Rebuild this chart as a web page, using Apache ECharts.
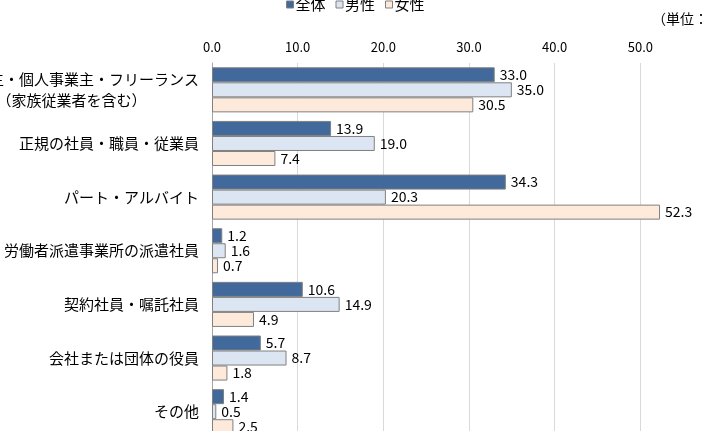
<!DOCTYPE html>
<html>
<head>
<meta charset="utf-8">
<script src="https://cdn.jsdelivr.net/npm/echarts@6/dist/echarts.min.js"></script>
<style>
html,body{margin:0;padding:0;background:#fff;}
#chart{width:706px;height:431px;}
</style>
</head>
<body>
<div id="chart"></div>
<script>
const categories = [
  "自営業主・個人事業主・フリーランス\n（家族従業者を含む）",
  "正規の社員・職員・従業員",
  "パート・アルバイト",
  "労働者派遣事業所の派遣社員",
  "契約社員・嘱託社員",
  "会社または団体の役員",
  "その他"
];
const seriesNames = ["全体", "男性", "女性"];
const totalValues = [33.0, 13.9, 34.3, 1.2, 10.6, 5.7, 1.4];
const maleValues = [35.0, 19.0, 20.3, 1.6, 14.9, 8.7, 0.5];
const femaleValues = [30.5, 7.4, 52.3, 0.7, 4.9, 1.8, 2.5];
const unitLabel = "（単位：%）";

const FONT = "'Noto Sans CJK JP', 'Noto Sans', sans-serif";
const colors = ["#41699B", "#DCE6F2", "#FDEADA"];
const chart = echarts.init(document.getElementById('chart'), null, {renderer: 'canvas'});

function mkSeries(name, data, color) {
  return {
    name: name,
    type: 'bar',
    data: data,
    barGap: '0%',
    barCategoryGap: '16%',
    itemStyle: {color: color, borderColor: '#808080', borderWidth: 1},
    label: {
      show: true,
      position: 'right',
      distance: 5,
      color: '#000',
      fontSize: 14,
      fontFamily: FONT,
      formatter: p => p.value.toFixed(1)
    },
    emphasis: {disabled: true},
    animation: false
  };
}

chart.setOption({
  animation: false,
  textStyle: {fontFamily: FONT},
  legend: {
    data: seriesNames,
    left: 281,
    top: -8,
    itemWidth: 7,
    itemHeight: 7,
    itemGap: 10,
    icon: 'rect',
    textStyle: {fontSize: 15, color: '#000', fontFamily: FONT, padding: [0, 0, 0, -3]},
    itemStyle: {borderColor: '#808080', borderWidth: 1}
  },
  graphic: [{
    type: 'text',
    left: 652,
    top: 12,
    style: {text: unitLabel, fontSize: 14, fill: '#000', fontFamily: FONT}
  }],
  grid: {left: 212, right: -20, top: 63, bottom: -7.5, containLabel: false, outerBoundsMode: 'none'},
  xAxis: {
    type: 'value',
    position: 'top',
    min: 0,
    max: 60,
    interval: 10,
    axisLine: {show: false},
    axisTick: {show: false},
    splitLine: {show: true, lineStyle: {color: '#D9D9D9', width: 1}},
    axisLabel: {
      color: '#000',
      fontSize: 13,
      fontFamily: FONT,
      margin: 9,
      formatter: v => v.toFixed(1)
    }
  },
  yAxis: {
    type: 'category',
    data: categories,
    inverse: true,
    axisLine: {show: true, lineStyle: {color: '#A6A6A6'}},
    axisTick: {show: false},
    axisLabel: {
      color: '#000',
      fontSize: 15,
      fontFamily: FONT,
      margin: 13,
      interval: 0,
      formatter: v => v.split('\n').map(s => '{c|' + s + '}').join('\n'),
      rich: {
        c: {align: 'center', fontSize: 15, fontFamily: FONT, color: '#000', lineHeight: 21}
      }
    }
  },
  series: [
    mkSeries(seriesNames[0], totalValues, colors[0]),
    mkSeries(seriesNames[1], maleValues, colors[1]),
    mkSeries(seriesNames[2], femaleValues, colors[2])
  ]
});
</script>
</body>
</html>
